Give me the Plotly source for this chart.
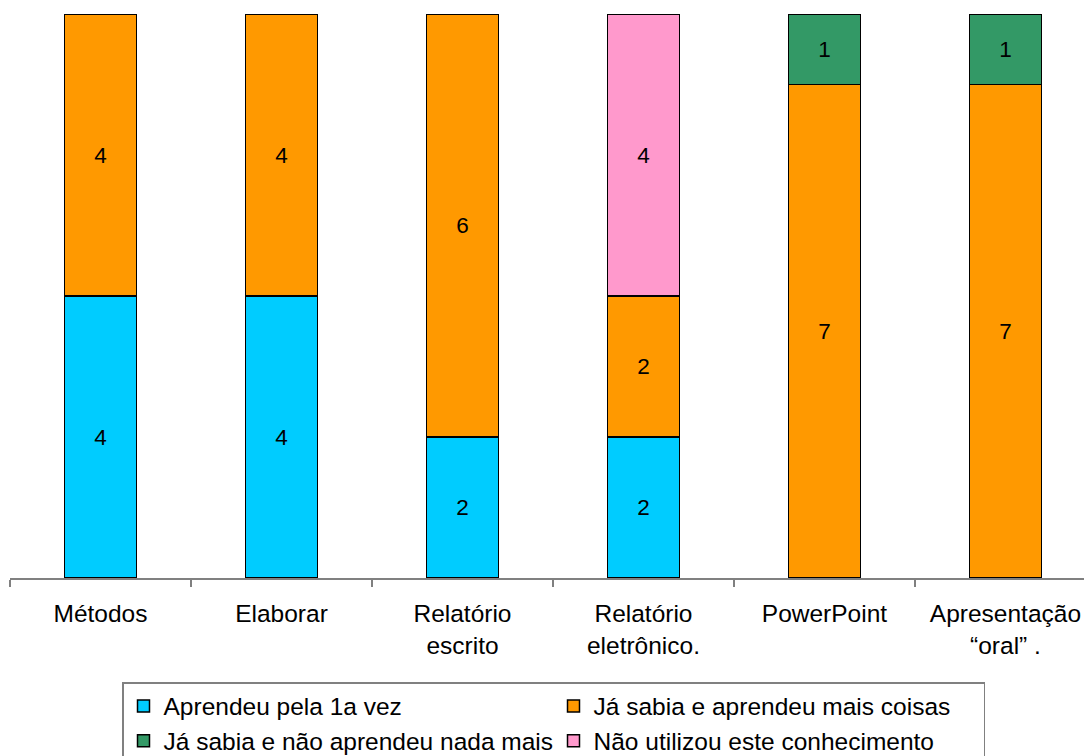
import plotly.graph_objects as go

categories = ["Métodos", "Elaborar", "Relatório<br>escrito", "Relatório<br>eletrônico.",
              "PowerPoint", "Apresentação<br>“oral” ."]

aprendeu_1a_vez = [4, 4, 2, 2, None, None]
sabia_aprendeu_mais = [4, 4, 6, 2, 7, 7]
sabia_nao_aprendeu = [None, None, None, None, 1, 1]
nao_utilizou = [None, None, None, 4, None, None]

series = [
    ("Aprendeu pela 1a vez", aprendeu_1a_vez, "#00CCFF"),
    ("Já sabia e aprendeu mais coisas", sabia_aprendeu_mais, "#FF9900"),
    ("Já sabia e não aprendeu nada mais", sabia_nao_aprendeu, "#339966"),
    ("Não utilizou este conhecimento", nao_utilizou, "#FF99CC"),
]

FONT = "Liberation Sans, Arial, sans-serif"

fig = go.Figure()
for name, vals, color in series:
    fig.add_trace(go.Bar(
        name=name,
        x=categories,
        y=vals,
        width=0.4,
        marker=dict(color=color, line=dict(color="black", width=1.5)),
        texttemplate="%{y}",
        textposition="inside",
        insidetextanchor="middle",
        textangle=0,
        constraintext="none",
        textfont=dict(family=FONT, size=22.5, color="black"),
    ))

fig.update_layout(
    barmode="stack",
    width=1084,
    height=756,
    margin=dict(l=10, r=0, t=14, b=178),
    paper_bgcolor="white",
    plot_bgcolor="white",
    font=dict(family=FONT, size=24.5, color="black"),
    showlegend=True,
    legend=dict(
        orientation="h",
        xref="container", yref="container",
        x=122 / 1084, y=1 - 682 / 756,
        xanchor="left", yanchor="top",
        entrywidth=385, entrywidthmode="pixels",
        itemwidth=30,
        bordercolor="#808080", borderwidth=1.5,
        font=dict(family=FONT, size=24.5, color="black"),
        traceorder="normal",
    ),
    xaxis=dict(
        type="category",
        range=[-0.5, 5.434],
        showline=True, linecolor="#808080", linewidth=1.5,
        ticks="outside", tickson="boundaries", ticklen=7,
        tickcolor="#808080", tickwidth=1.5,
        showgrid=False,
        ticklabelstandoff=13,
        tickfont=dict(family=FONT, size=24.5, color="black"),
    ),
    yaxis=dict(range=[0, 8], visible=False, showgrid=False),
)

fig.write_html("out.html")
